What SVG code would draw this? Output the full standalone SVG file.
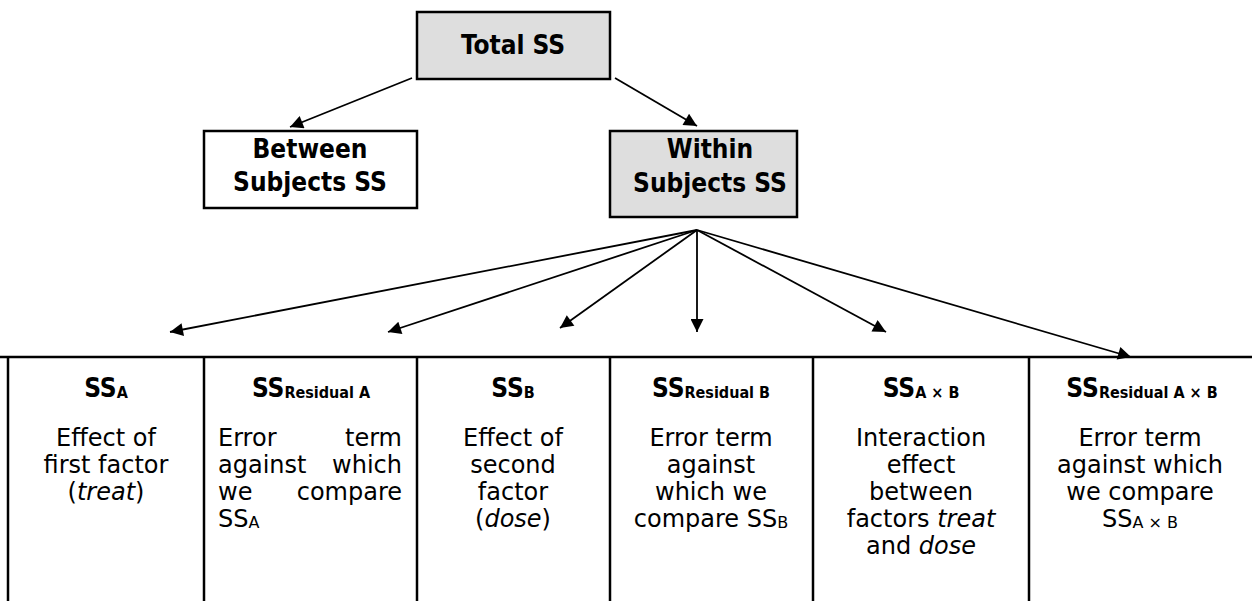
<svg xmlns="http://www.w3.org/2000/svg" width="1252" height="601" viewBox="0 0 1252 601">
<defs>
<style>
.box{stroke:#000;stroke-width:2.5;}
.g{fill:#dedede;}
.w{fill:#fff;}
.t{font-family:"DejaVu Sans Condensed","DejaVu Sans",sans-serif;fill:#000;}
.r{font-family:"DejaVu Sans",sans-serif;fill:#000;}
.bt{font-size:26px;font-weight:bold;}
.hd{font-size:26px;font-weight:bold;}
.hs{font-size:16px;font-weight:bold;}
.bd{font-size:24px;}
.bs{font-size:16px;}
.con{stroke:#000;stroke-width:1.8;fill:none;}
.grid{stroke:#000;stroke-width:2.5;fill:none;}
</style>
<marker id="ah" viewBox="0 0 10 10" refX="10" refY="5" markerUnits="userSpaceOnUse" markerWidth="18" markerHeight="13" orient="auto">
<path d="M0,0 L10,5 L0,10 z" fill="#000"/>
</marker>
</defs>

<g id="total">
<rect class="box g" x="417" y="12" width="193" height="67"/>
<text class="t bt" x="513" y="54" text-anchor="middle">Total SS</text>
</g>

<g id="between">
<rect class="box w" x="204" y="131" width="213" height="77"/>
<text class="t bt" x="310" y="158" text-anchor="middle">Between</text>
<text class="t bt" x="310" y="191" text-anchor="middle">Subjects SS</text>
</g>

<g id="within">
<rect class="box g" x="610" y="131" width="187" height="86"/>
<text class="t bt" x="710" y="158" text-anchor="middle">Within</text>
<text class="t bt" x="710" y="192" text-anchor="middle">Subjects SS</text>
</g>

<g id="connectors">
<line class="con" x1="412" y1="78" x2="290" y2="127" marker-end="url(#ah)"/>
<line class="con" x1="615" y1="78" x2="697" y2="126" marker-end="url(#ah)"/>
<line class="con" x1="697" y1="230" x2="170" y2="332" marker-end="url(#ah)"/>
<line class="con" x1="697" y1="230" x2="388" y2="332" marker-end="url(#ah)"/>
<line class="con" x1="697" y1="230" x2="560" y2="328" marker-end="url(#ah)"/>
<line class="con" x1="697" y1="230" x2="697" y2="332" marker-end="url(#ah)"/>
<line class="con" x1="697" y1="230" x2="886" y2="332" marker-end="url(#ah)"/>
<line class="con" x1="697" y1="230" x2="1131" y2="357" marker-end="url(#ah)"/>
</g>

<g id="table-lines">
<line class="grid" x1="0" y1="357" x2="1252" y2="357"/>
<line class="grid" x1="8" y1="357" x2="8" y2="601"/>
<line class="grid" x1="204" y1="357" x2="204" y2="601"/>
<line class="grid" x1="417" y1="357" x2="417" y2="601"/>
<line class="grid" x1="610" y1="357" x2="610" y2="601"/>
<line class="grid" x1="813" y1="357" x2="813" y2="601"/>
<line class="grid" x1="1029" y1="357" x2="1029" y2="601"/>
</g>

<g id="ss-a">
<text class="t hd" x="106" y="397" text-anchor="middle">SS<tspan class="hs" dy="1">A</tspan></text>
<text class="r bd" x="106" y="446" text-anchor="middle">Effect of</text>
<text class="r bd" x="106" y="473" text-anchor="middle">first factor</text>
<text class="r bd" x="106" y="500" text-anchor="middle">(<tspan font-style="italic">treat</tspan>)</text>
</g>

<g id="ss-residual-a">
<text class="t hd" x="311" y="397" text-anchor="middle">SS<tspan class="hs" dy="1">Residual A</tspan></text>
<text class="r bd" x="218" y="446">Error</text>
<text class="r bd" x="402" y="446" text-anchor="end">term</text>
<text class="r bd" x="218" y="473">against</text>
<text class="r bd" x="402" y="473" text-anchor="end">which</text>
<text class="r bd" x="218" y="500">we</text>
<text class="r bd" x="402" y="500" text-anchor="end">compare</text>
<text class="r bd" x="218" y="527">SS<tspan class="bs" dy="1">A</tspan></text>
</g>

<g id="ss-b">
<text class="t hd" x="513" y="397" text-anchor="middle">SS<tspan class="hs" dy="1">B</tspan></text>
<text class="r bd" x="513" y="446" text-anchor="middle">Effect of</text>
<text class="r bd" x="513" y="473" text-anchor="middle">second</text>
<text class="r bd" x="513" y="500" text-anchor="middle">factor</text>
<text class="r bd" x="513" y="527" text-anchor="middle">(<tspan font-style="italic">dose</tspan>)</text>
</g>

<g id="ss-residual-b">
<text class="t hd" x="711" y="397" text-anchor="middle">SS<tspan class="hs" dy="1">Residual B</tspan></text>
<text class="r bd" x="711" y="446" text-anchor="middle">Error term</text>
<text class="r bd" x="711" y="473" text-anchor="middle">against</text>
<text class="r bd" x="711" y="500" text-anchor="middle">which we</text>
<text class="r bd" x="711" y="527" text-anchor="middle">compare SS<tspan class="bs" dy="1">B</tspan></text>
</g>

<g id="ss-axb">
<text class="t hd" x="921" y="397" text-anchor="middle">SS<tspan class="hs" dy="1">A × B</tspan></text>
<text class="r bd" x="921" y="446" text-anchor="middle">Interaction</text>
<text class="r bd" x="921" y="473" text-anchor="middle">effect</text>
<text class="r bd" x="921" y="500" text-anchor="middle">between</text>
<text class="r bd" x="921" y="527" text-anchor="middle">factors <tspan font-style="italic">treat</tspan></text>
<text class="r bd" x="921" y="554" text-anchor="middle">and <tspan font-style="italic">dose</tspan></text>
</g>

<g id="ss-residual-axb">
<text class="t hd" x="1142" y="397" text-anchor="middle">SS<tspan class="hs" dy="1">Residual A × B</tspan></text>
<text class="r bd" x="1140" y="446" text-anchor="middle">Error term</text>
<text class="r bd" x="1140" y="473" text-anchor="middle">against which</text>
<text class="r bd" x="1140" y="500" text-anchor="middle">we compare</text>
<text class="r bd" x="1140" y="527" text-anchor="middle">SS<tspan class="bs" dy="1">A × B</tspan></text>
</g>
</svg>
